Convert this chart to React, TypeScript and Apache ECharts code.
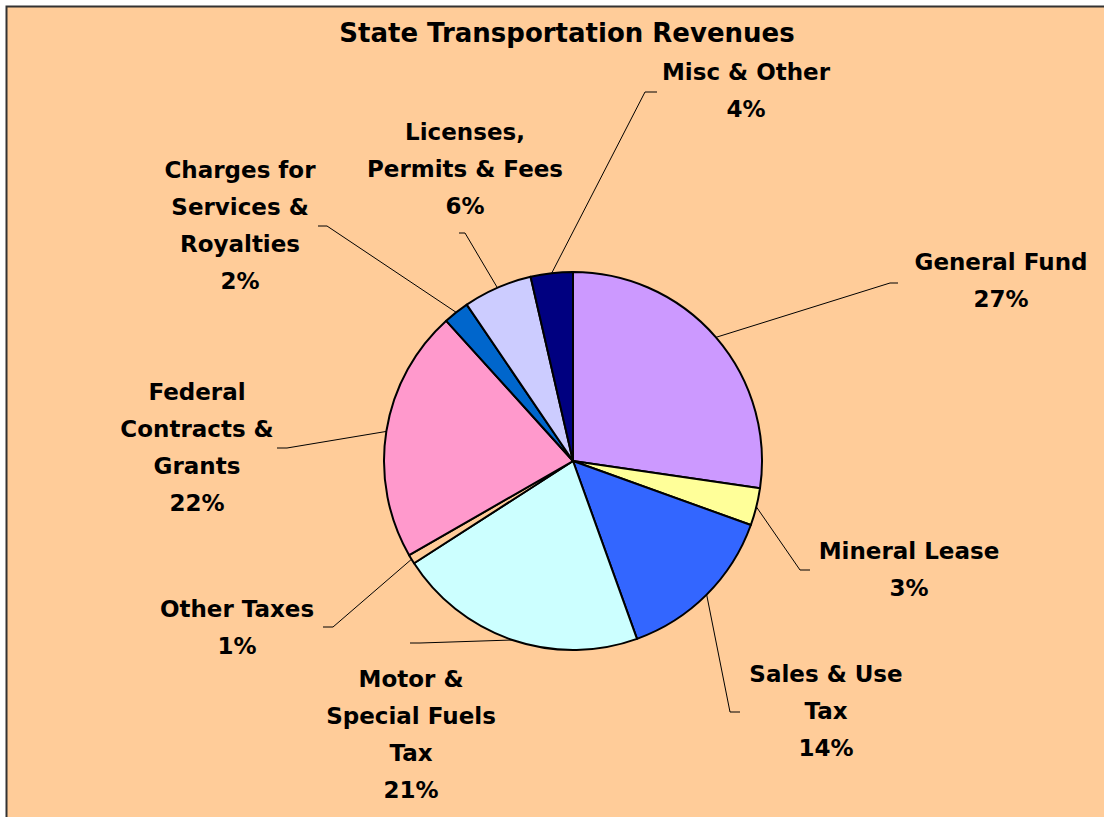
import React, { useEffect, useRef } from "react";
import * as echarts from "echarts";

const CATEGORIES = [
  "General Fund",
  "Mineral Lease",
  "Sales & Use Tax",
  "Motor & Special Fuels Tax",
  "Other Taxes",
  "Federal Contracts & Grants",
  "Charges for Services & Royalties",
  "Licenses, Permits & Fees",
  "Misc & Other",
];
const LABEL_TEXT = [
  "General Fund",
  "Mineral Lease",
  "Sales & Use\nTax",
  "Motor &\nSpecial Fuels\nTax",
  "Other Taxes",
  "Federal\nContracts &\nGrants",
  "Charges for\nServices &\nRoyalties",
  "Licenses,\nPermits & Fees",
  "Misc & Other",
];
const VALUES = [27.3, 3.2, 14.0, 21.4, 0.8, 21.6, 2.2, 5.9, 3.6];
const COLORS = ["#CC99FF", "#FFFF99", "#3366FF", "#CCFFFF", "#FFCC99", "#FF99CC", "#0066CC", "#CCCCFF", "#000080"];
const TITLE = "State Transportation Revenues";

// label layout (positions only)
const LABEL_POS = [[1001, 280], [909, 569], [826, 711], [411, 734], [237, 627], [197, 447], [240, 225], [465, 169], [746, 90]];
const LINE_KNEE = [[890, 283], [800, 570], [730, 712], [420, 643], [333, 627], [287, 448], [327, 226], [465, 233], [645, 92]];
const LINE_END = [[898, 283], [810, 570], [740, 712], [410, 643], [323, 627], [277, 448], [318, 226], [459, 233], [657, 92]];

export default function App() {
  const ref = useRef<HTMLDivElement>(null);
  useEffect(() => {
    if (!ref.current) return;
    const chart = echarts.init(ref.current, null, { renderer: "svg" });
    chart.setOption({
      animation: false,
      backgroundColor: "#ffffff",
      graphic: [
        {
          type: "rect",
          z: -10,
          shape: { x: 6.5, y: 6.5, width: 1200, height: 900 },
          style: { fill: "#FFCC99", stroke: "#333333", lineWidth: 2 },
        },
        {
          type: "text",
          style: {
            text: TITLE,
            x: 567,
            y: 33,
            align: "center",
            verticalAlign: "middle",
            fontFamily: "DejaVu Sans",
            fontWeight: "bold",
            fontSize: 26,
            fill: "#000",
          },
        },
      ],
      series: [
        {
          type: "pie",
          center: [573, 461],
          radius: 189,
          startAngle: 90,
          clockwise: true,
          avoidLabelOverlap: false,
          itemStyle: { borderColor: "#000", borderWidth: 2 },
          label: {
            show: true,
            position: "outside",
            fontFamily: "DejaVu Sans",
            fontWeight: "bold",
            fontSize: 23,
            lineHeight: 37,
            color: "#000",
            formatter: (p: any) => `${LABEL_TEXT[p.dataIndex]}\n${Math.round(p.percent)}%`,
          },
          labelLine: { show: true, length: 20, length2: 10, lineStyle: { color: "#000", width: 1 } },
          labelLayout: (params: any) => {
            const i = params.dataIndex;
            const p0 = params.labelLinePoints ? params.labelLinePoints[0] : null;
            const res: any = {
              x: LABEL_POS[i][0],
              y: LABEL_POS[i][1],
              align: "center",
              verticalAlign: "middle",
            };
            if (p0) res.labelLinePoints = [p0, LINE_KNEE[i], LINE_END[i]];
            return res;
          },
          data: CATEGORIES.map((name, i) => ({
            name,
            value: VALUES[i],
            itemStyle: { color: COLORS[i] },
          })),
        },
      ],
    });
    return () => chart.dispose();
  }, []);
  return (
    <div
      ref={ref}
      style={{ position: "absolute", left: 0, top: 0, width: 1104, height: 817 }}
    />
  );
}
